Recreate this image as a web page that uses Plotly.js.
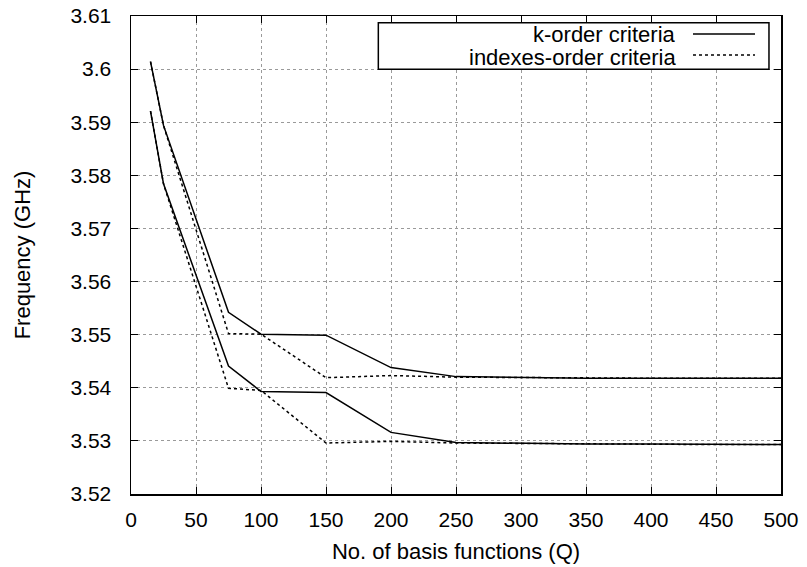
<!DOCTYPE html>
<html>
<head>
<meta charset="utf-8">
<script src="https://cdn.plot.ly/plotly-3.0.1.min.js"></script>
<style>html,body{margin:0;padding:0;background:#fff;}#chart{width:807px;height:567px;}</style>
</head>
<body>
<div id="chart"></div>
<script>
const basisFunctions = [15, 25, 75, 100, 150, 200, 250, 300, 350, 400, 450, 500];
const kOrderUpper   = [3.6014, 3.5894, 3.5542, 3.5501, 3.5499, 3.5438, 3.5421, 3.5419, 3.5418, 3.5418, 3.5418, 3.5418];
const kOrderLower   = [3.5921, 3.5784, 3.5441, 3.5393, 3.5391, 3.5316, 3.5297, 3.5295, 3.5294, 3.5294, 3.5293, 3.5293];
const idxOrderUpper = [3.6014, 3.5894, 3.5502, 3.5501, 3.5419, 3.5423, 3.5420, 3.5419, 3.5419, 3.5418, 3.5418, 3.5418];
const idxOrderLower = [3.5921, 3.5784, 3.5399, 3.5395, 3.5296, 3.5299, 3.5296, 3.5295, 3.5294, 3.5294, 3.5293, 3.5293];
const seriesNames = ['k-order criteria', 'indexes-order criteria'];
const yTickVals = [3.52, 3.53, 3.54, 3.55, 3.56, 3.57, 3.58, 3.59, 3.60, 3.61];
const yTickText = ['3.52', '3.53', '3.54', '3.55', '3.56', '3.57', '3.58', '3.59', '3.6', '3.61'];
const xTickVals = [0, 50, 100, 150, 200, 250, 300, 350, 400, 450, 500];

const FONT = 'Liberation Sans, Arial, Helvetica, sans-serif';
const solid = {color: '#000', width: 1.5, dash: 'solid'};
const dotted = {color: '#000', width: 1.5, dash: 'dot'};

const traces = [
  {x: basisFunctions, y: idxOrderUpper, mode: 'lines', line: dotted, name: seriesNames[1], showlegend: false},
  {x: basisFunctions, y: idxOrderLower, mode: 'lines', line: dotted, name: seriesNames[1], showlegend: false},
  {x: basisFunctions, y: kOrderUpper, mode: 'lines', line: solid, name: seriesNames[0], showlegend: false},
  {x: basisFunctions, y: kOrderLower, mode: 'lines', line: solid, name: seriesNames[0], showlegend: false}
];

const axisCommon = {
  showline: true, linecolor: '#000', linewidth: 1.5, mirror: 'allticks',
  ticks: 'inside', ticklen: 7, tickwidth: 1, tickcolor: '#000',
  showgrid: true, gridcolor: '#9a9a9a', griddash: 'dot', gridwidth: 1,
  zeroline: false, tickfont: {family: FONT, size: 21, color: '#000'}
};

const layout = {
  width: 807, height: 567,
  margin: {l: 131, r: 26, t: 16, b: 73},
  paper_bgcolor: '#fff', plot_bgcolor: '#fff',
  font: {family: FONT, color: '#000'},
  showlegend: false,
  xaxis: Object.assign({}, axisCommon, {
    range: [0, 500], tickmode: 'array', tickvals: xTickVals,
    ticklabelstandoff: 6,
    title: {text: 'No. of basis functions (Q)', font: {family: FONT, size: 22, color: '#000'}, standoff: 14}
  }),
  yaxis: Object.assign({}, axisCommon, {
    range: [3.52, 3.61], tickmode: 'array', tickvals: yTickVals, ticktext: yTickText,
    ticklabelstandoff: 14,
    title: {text: 'Frequency (GHz)', font: {family: FONT, size: 22, color: '#000'}, standoff: 33}
  }),
  shapes: [
    {type: 'rect', xref: 'paper', yref: 'paper', x0: 0.3805, x1: 0.9815, y0: 0.8886, y1: 0.986,
     line: {color: '#000', width: 1.5}, fillcolor: '#fff', layer: 'above'},
    {type: 'line', xref: 'paper', yref: 'paper', x0: 0.8646, x1: 0.96, y0: 0.9624, y1: 0.9624,
     line: {color: '#000', width: 1.5, dash: 'solid'}, layer: 'above'},
    {type: 'line', xref: 'paper', yref: 'paper', x0: 0.8646, x1: 0.96, y0: 0.9185, y1: 0.9185,
     line: {color: '#000', width: 1.5, dash: 'dot'}, layer: 'above'}
  ],
  annotations: [
    {xref: 'paper', yref: 'paper', x: 0.842, y: 0.9613, xanchor: 'right', yanchor: 'middle', height: 20,
     text: seriesNames[0], showarrow: false, font: {family: FONT, size: 22, color: '#000'}},
    {xref: 'paper', yref: 'paper', x: 0.842, y: 0.9147, xanchor: 'right', yanchor: 'middle', height: 20,
     text: seriesNames[1], showarrow: false, font: {family: FONT, size: 22, color: '#000'}}
  ]
};

Plotly.newPlot('chart', traces, layout, {staticPlot: true, displayModeBar: false});
</script>
</body>
</html>
